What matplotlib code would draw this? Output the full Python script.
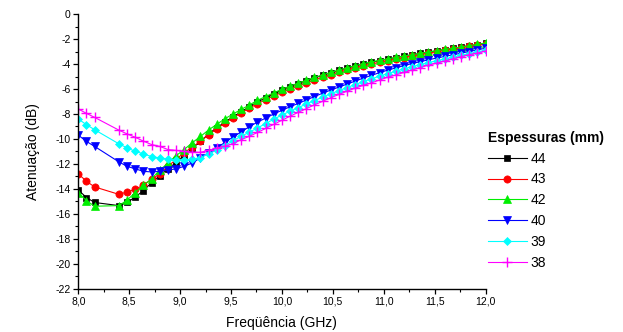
import matplotlib
matplotlib.use("Agg")
import matplotlib.pyplot as plt
from matplotlib.ticker import MultipleLocator, FuncFormatter

plt.rcParams['font.family'] = ['Liberation Sans', 'DejaVu Sans']
plt.rcParams['axes.unicode_minus'] = False

# frequencies (GHz)
freq = [8.0, 8.08, 8.16, 8.4, 8.48, 8.56, 8.64, 8.72, 8.8, 8.88, 8.96,
        9.04, 9.12, 9.2, 9.28, 9.36, 9.44, 9.52, 9.6, 9.68, 9.76, 9.84, 9.92,
        10.0, 10.08, 10.16, 10.24, 10.32, 10.4, 10.48, 10.56, 10.64, 10.72, 10.8, 10.88, 10.96,
        11.04, 11.12, 11.2, 11.28, 11.36, 11.44, 11.52, 11.6, 11.68, 11.76, 11.84, 11.92,
        12.0]

# attenuation (dB) per thickness
att_44 = [-14.1, -14.7, -15.1, -15.35, -15.1, -14.65, -14.15, -13.5, -12.95, -12.4, -11.9,
          -11.3, -10.75, -10.2, -9.6, -9.1, -8.65, -8.22, -7.82, -7.43, -7.04, -6.7, -6.38,
          -6.08, -5.8, -5.56, -5.33, -5.11, -4.9, -4.7, -4.5, -4.32, -4.15, -3.99, -3.85, -3.72,
          -3.59, -3.47, -3.36, -3.25, -3.14, -3.03, -2.93, -2.83, -2.73, -2.63, -2.53, -2.43,
          -2.32]
att_43 = [-12.8, -13.4, -13.85, -14.45, -14.25, -14.05, -13.7, -13.25, -12.8, -12.2, -11.65,
          -11.1, -10.65, -10.19, -9.66, -9.2, -8.72, -8.3, -7.92, -7.53, -7.18, -6.86, -6.55,
          -6.26, -5.99, -5.74, -5.5, -5.27, -5.05, -4.85, -4.65, -4.47, -4.3, -4.14, -3.99, -3.85,
          -3.72, -3.59, -3.47, -3.35, -3.23, -3.11, -3.0, -2.89, -2.78, -2.67, -2.56, -2.46,
          -2.36]
att_42 = [-14.3, -14.95, -15.4, -15.35, -14.9, -14.3, -13.7, -13.2, -12.5, -11.95, -11.35,
          -10.85, -10.3, -9.8, -9.28, -8.83, -8.38, -8.0, -7.63, -7.28, -6.9, -6.6, -6.3,
          -6.02, -5.76, -5.52, -5.29, -5.07, -4.86, -4.66, -4.47, -4.29, -4.12, -3.96, -3.82, -3.69,
          -3.57, -3.46, -3.35, -3.24, -3.13, -3.02, -2.92, -2.82, -2.72, -2.62, -2.52, -2.42,
          -2.3]
att_40 = [-9.7, -10.2, -10.6, -11.85, -12.2, -12.4, -12.6, -12.65, -12.6, -12.5, -12.4,
          -12.2, -11.92, -11.52, -11.12, -10.72, -10.28, -9.85, -9.44, -9.02, -8.65, -8.33, -8.0,
          -7.7, -7.42, -7.15, -6.88, -6.6, -6.33, -6.08, -5.84, -5.6, -5.36, -5.12, -4.9, -4.68,
          -4.48, -4.3, -4.12, -3.95, -3.8, -3.65, -3.51, -3.38, -3.25, -3.12, -2.99, -2.86,
          -2.72]
att_39 = [-8.4, -8.86, -9.26, -10.4, -10.72, -11.0, -11.2, -11.42, -11.52, -11.62, -11.68,
          -11.68, -11.64, -11.5, -11.18, -10.9, -10.54, -10.14, -9.79, -9.46, -9.12, -8.77, -8.42,
          -8.08, -7.78, -7.49, -7.2, -6.92, -6.65, -6.38, -6.13, -5.88, -5.64, -5.4, -5.18, -4.96,
          -4.76, -4.57, -4.38, -4.2, -4.03, -3.87, -3.72, -3.58, -3.44, -3.3, -3.16, -3.02,
          -2.88]
att_38 = [-7.6, -7.95, -8.27, -9.3, -9.6, -9.87, -10.18, -10.45, -10.6, -10.85, -10.92,
          -11.0, -11.07, -11.07, -10.92, -10.72, -10.58, -10.38, -10.06, -9.79, -9.48, -9.16, -8.83,
          -8.5, -8.18, -7.87, -7.57, -7.27, -6.98, -6.7, -6.43, -6.17, -5.93, -5.7, -5.5, -5.27,
          -5.05, -4.86, -4.67, -4.47, -4.27, -4.08, -3.92, -3.75, -3.57, -3.4, -3.24, -3.12,
          -2.95]

labels = ["44", "43", "42", "40", "39", "38"]
series = [att_44, att_43, att_42, att_40, att_39, att_38]
colors = ["#000000", "#ff0000", "#00ee00", "#0000ff", "#00ffff", "#ff00ff"]
markers = ["s", "o", "^", "v", "D", "+"]
msizes = [4.5, 5.2, 5.5, 5.5, 4.5, 6.5]

fig = plt.figure(figsize=(6.23, 3.32), dpi=100)
ax = fig.add_axes([0.1257, 0.131, 0.6536, 0.826])

for y, lab, c, m, ms in zip(series, labels, colors, markers, msizes):
    ax.plot(freq, y, color=c, linewidth=0.8, marker=m, markersize=ms,
            markerfacecolor=c, markeredgecolor=c, markeredgewidth=1.0 if m == "+" else 0.5,
            label=lab)

ax.set_xlim(8.0, 12.0)
ax.set_ylim(-22, 0)
ax.xaxis.set_major_locator(MultipleLocator(0.5))
ax.xaxis.set_minor_locator(MultipleLocator(0.25))
ax.yaxis.set_major_locator(MultipleLocator(2))
ax.yaxis.set_minor_locator(MultipleLocator(1))
ax.xaxis.set_major_formatter(FuncFormatter(lambda v, p: f"{v:.1f}".replace(".", ",")))
ax.yaxis.set_major_formatter(FuncFormatter(lambda v, p: f"{int(round(v))}"))

for side in ["top", "right"]:
    ax.spines[side].set_visible(False)
for side in ["left", "bottom"]:
    ax.spines[side].set_linewidth(1.0)
ax.tick_params(which="major", direction="out", length=3.5, width=0.9, labelsize=7.5, pad=2)
ax.tick_params(which="minor", direction="out", length=2, width=0.8)

ax.set_xlabel("Freqüência (GHz)", fontsize=10, labelpad=7)
ax.set_ylabel("Atenuação (dB)", fontsize=10, labelpad=11)

leg = fig.legend(loc="upper left", bbox_to_anchor=(485 / 623, 1 - 128 / 332),
                 frameon=False, fontsize=10, title="Espessuras (mm)",
                 title_fontproperties={"weight": "bold", "size": 10},
                 handlelength=2.8, handletextpad=0.3, labelspacing=0.49,
                 alignment="left", borderaxespad=0, borderpad=0.2)

fig.savefig("out.png", dpi=100)
